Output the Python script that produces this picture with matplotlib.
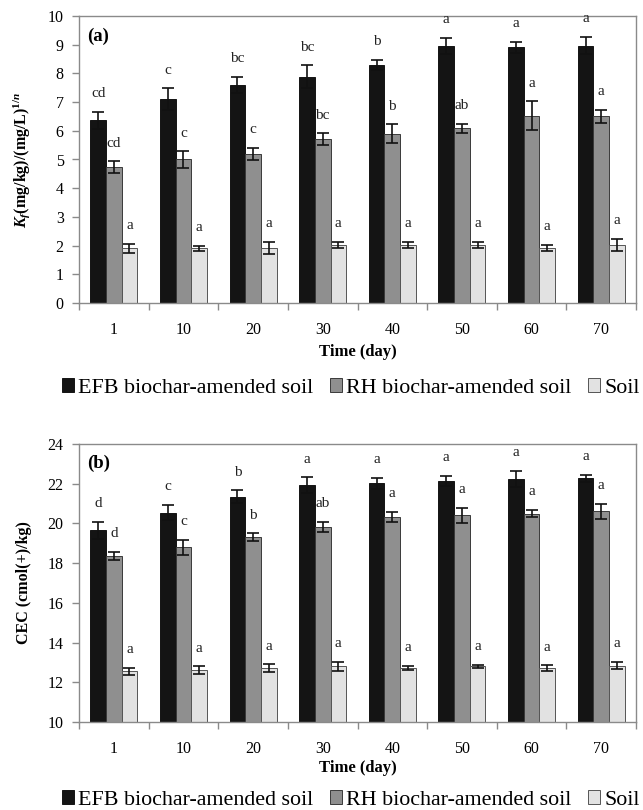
import matplotlib
matplotlib.use("Agg")
import matplotlib.pyplot as plt
import numpy as np
from matplotlib.patches import Patch

plt.rcParams['font.family'] = ['Liberation Serif', 'DejaVu Serif']
plt.rcParams['mathtext.fontset'] = 'custom'
plt.rcParams['mathtext.it'] = 'Liberation Serif:italic:bold'
plt.rcParams['mathtext.rm'] = 'Liberation Serif:bold'
plt.rcParams['mathtext.bf'] = 'Liberation Serif:bold'

days = ['1', '10', '20', '30', '40', '50', '60', '70']
series_names = ['EFB biochar-amended soil', 'RH biochar-amended soil', 'Soil']

# Panel (a): Kf
kf_efb = [6.37, 7.10, 7.59, 7.88, 8.29, 8.95, 8.91, 8.97]
kf_efb_err = [0.29, 0.38, 0.29, 0.40, 0.18, 0.29, 0.20, 0.30]
kf_rh = [4.74, 5.00, 5.20, 5.70, 5.90, 6.09, 6.53, 6.51]
kf_rh_err = [0.20, 0.29, 0.21, 0.21, 0.33, 0.16, 0.50, 0.23]
kf_soil = [1.91, 1.90, 1.93, 2.03, 2.03, 2.03, 1.92, 2.03]
kf_soil_err = [0.16, 0.09, 0.21, 0.10, 0.10, 0.10, 0.10, 0.21]
kf_efb_lbl = ['cd', 'c', 'bc', 'bc', 'b', 'a', 'a', 'a']
kf_rh_lbl = ['cd', 'c', 'c', 'bc', 'b', 'ab', 'a', 'a']
kf_soil_lbl = ['a'] * 8

# Panel (b): CEC
cec_efb = [19.66, 20.55, 21.34, 21.93, 22.02, 22.13, 22.24, 22.27]
cec_efb_err = [0.42, 0.40, 0.32, 0.39, 0.29, 0.27, 0.40, 0.18]
cec_rh = [18.37, 18.81, 19.31, 19.82, 20.32, 20.40, 20.50, 20.61]
cec_rh_err = [0.20, 0.38, 0.19, 0.27, 0.27, 0.39, 0.20, 0.39]
cec_soil = [12.55, 12.60, 12.72, 12.81, 12.72, 12.81, 12.72, 12.84]
cec_soil_err = [0.17, 0.20, 0.19, 0.22, 0.10, 0.07, 0.14, 0.19]
cec_efb_lbl = ['d', 'c', 'b', 'a', 'a', 'a', 'a', 'a']
cec_rh_lbl = ['d', 'c', 'b', 'ab', 'a', 'a', 'a', 'a']
cec_soil_lbl = ['a'] * 8

colors = ['#141414', '#8f8f8f', '#e2e2e2']
edges = ['#141414', '#3a3a3a', '#555555']
spine_col = '#8a8a8a'

fig = plt.figure(figsize=(6.43, 8.10), dpi=100)
ax1 = fig.add_axes([79/643, 1-303/810, 557/643, 287/810])
ax2 = fig.add_axes([79/643, 1-722/810, 557/643, 278/810])

def draw(ax, vals, errs, lbls, ylim, yticks, ylabel, panel):
    x = np.arange(len(days))
    w = 0.225
    for i in range(3):
        xi = x + (i - 1) * w
        heights = np.array(vals[i]) - ylim[0]
        ax.bar(xi, heights, width=w, bottom=ylim[0], color=colors[i],
               edgecolor=edges[i], linewidth=0.7, zorder=2)
        ax.errorbar(xi, vals[i], yerr=errs[i], fmt='none', ecolor='#111111',
                    elinewidth=1.2, capsize=4, capthick=1.2, zorder=3)
        for xx, v, e, t in zip(xi, vals[i], errs[i], lbls[i]):
            ax.annotate(t, (xx, v + e), xytext=(0, 13), textcoords='offset points',
                        ha='center', va='center', fontsize=11, color='#222222')
    ax.set_xlim(-0.5, len(days) - 0.5)
    ax.set_ylim(*ylim)
    ax.set_yticks(yticks)
    ax.set_yticklabels([str(t) for t in yticks], fontsize=11.5)
    ax.set_xticks(x)
    ax.set_xticklabels(days, fontsize=11.5)
    ax.set_xticks(np.arange(len(days) + 1) - 0.5, minor=True)
    ax.tick_params(axis='x', which='major', length=0, pad=14)
    ax.tick_params(axis='x', which='minor', length=5, color=spine_col, width=1)
    ax.tick_params(axis='y', length=5, color=spine_col, width=1, pad=6)
    for s in ax.spines.values():
        s.set_color(spine_col)
        s.set_linewidth(1.0)
    ax.set_ylabel(ylabel, fontsize=11.5, fontweight='bold')
    ax.text(0.014, 0.93, panel, transform=ax.transAxes, fontsize=13.5,
            fontweight='bold', ha='left', va='center')

draw(ax1, [kf_efb, kf_rh, kf_soil], [kf_efb_err, kf_rh_err, kf_soil_err],
     [kf_efb_lbl, kf_rh_lbl, kf_soil_lbl], (0, 10), list(range(0, 11)),
     r'$K_f$(mg/kg)/(mg/L)$^{1/n}$', '(a)')
draw(ax2, [cec_efb, cec_rh, cec_soil], [cec_efb_err, cec_rh_err, cec_soil_err],
     [cec_efb_lbl, cec_rh_lbl, cec_soil_lbl], (10, 24), list(range(10, 25, 2)),
     'CEC (cmol(+)/kg)', '(b)')
ax1.yaxis.set_label_coords(-0.085, 0.5)
ax2.yaxis.set_label_coords(-0.085, 0.5)

xc = (79 + 636) / 2 / 643
fig.text(xc, 1 - 352/810, 'Time (day)', ha='center', va='center',
         fontsize=12, fontweight='bold')
fig.text(xc, 1 - 768/810, 'Time (day)', ha='center', va='center',
         fontsize=12, fontweight='bold')

handles = [Patch(facecolor=colors[i], edgecolor=edges[i], linewidth=0.7)
           for i in range(3)]
for yc in (1 - 388/810, 1 - 800/810):
    fig.legend(handles, series_names, loc='center right',
               bbox_to_anchor=(640/643, yc),
               ncol=3, frameon=False, fontsize=15.8, handlelength=0.55,
               handleheight=0.55, handletextpad=0.2, columnspacing=0.75,
               borderpad=0, borderaxespad=0)

fig.savefig('out.png', dpi=100)
